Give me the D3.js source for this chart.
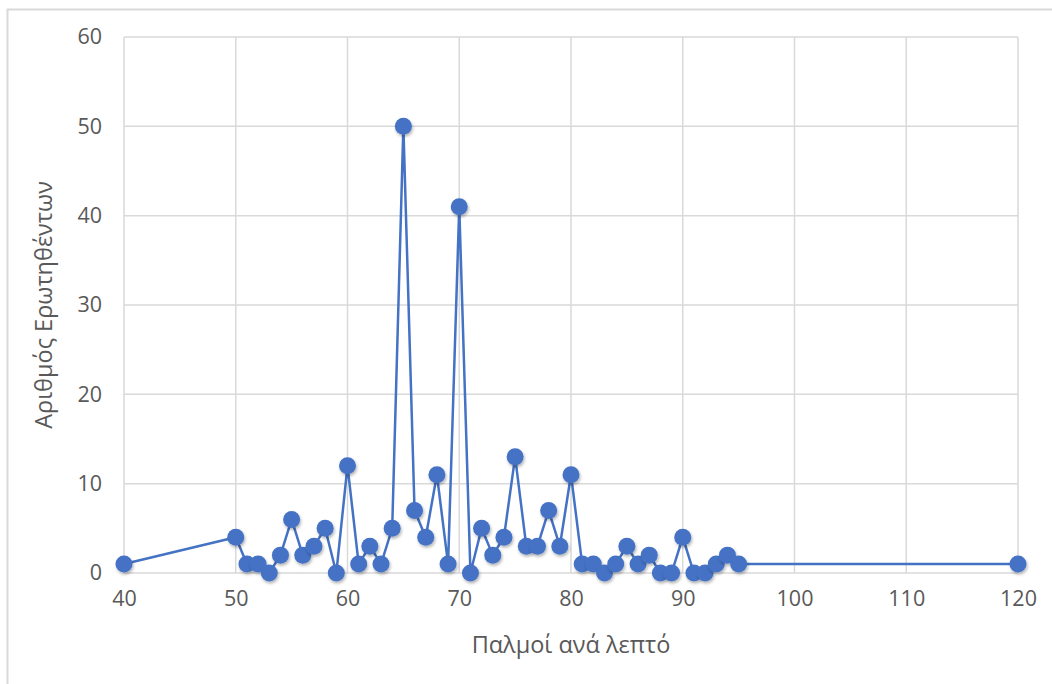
<!DOCTYPE html>
<html>
<head>
<meta charset="utf-8">
<script src="https://cdn.jsdelivr.net/npm/d3@7"></script>
<style>
  html, body { margin: 0; padding: 0; background: #fff; }
  svg { display: block; }
  text { font-family: "Open Sans", "Noto Sans", sans-serif; fill: #595959; }
</style>
</head>
<body>
<svg id="chart" width="1052" height="684"></svg>
<script>
// Heart rate (beats per minute) and number of respondents at each rate
const heartRates = [40, 50, 51, 52, 53, 54, 55, 56, 57, 58, 59, 60, 61, 62, 63, 64, 65, 66, 67, 68, 69, 70,
  71, 72, 73, 74, 75, 76, 77, 78, 79, 80, 81, 82, 83, 84, 85, 86, 87, 88, 89, 90, 91, 92, 93, 94, 95, 120];
const respondents = [1, 4, 1, 1, 0, 2, 6, 2, 3, 5, 0, 12, 1, 3, 1, 5, 50, 7, 4, 11, 1, 41,
  0, 5, 2, 4, 13, 3, 3, 7, 3, 11, 1, 1, 0, 1, 3, 1, 2, 0, 0, 4, 0, 0, 1, 2, 1, 1];
const xTicks = [40, 50, 60, 70, 80, 90, 100, 110, 120];
const yTicks = [0, 10, 20, 30, 40, 50, 60];
const xTitle = "Παλμοί ανά λεπτό";
const yTitle = "Αριθμός Ερωτηθέντων";

const svg = d3.select("#chart");
const plotLeft = 124, plotRight = 1018, plotTop = 37, plotBottom = 573;
const blue = "#4472C4";

// outer chart frame
svg.append("rect")
  .attr("x", 7.5).attr("y", 9.5)
  .attr("width", 1100).attr("height", 700)
  .attr("fill", "#fff").attr("stroke", "#d9d9d9").attr("stroke-width", 2);

const x = d3.scaleLinear().domain([40, 120]).range([plotLeft, plotRight]);
const y = d3.scaleLinear().domain([0, 60]).range([plotBottom, plotTop]);

// gridlines
svg.append("g").selectAll("line").data(xTicks).join("line")
  .attr("x1", d => x(d)).attr("x2", d => x(d))
  .attr("y1", plotTop).attr("y2", plotBottom)
  .attr("stroke", "#d9d9d9").attr("stroke-width", 1.5);
svg.append("g").selectAll("line").data(yTicks).join("line")
  .attr("x1", plotLeft).attr("x2", plotRight)
  .attr("y1", d => y(d)).attr("y2", d => y(d))
  .attr("stroke", "#d9d9d9").attr("stroke-width", 1.5);

// tick labels
const xAxis = svg.append("g").attr("transform", `translate(0,${plotBottom})`)
  .call(d3.axisBottom(x).tickValues(xTicks).tickSize(0).tickPadding(18));
const yAxis = svg.append("g").attr("transform", `translate(${plotLeft},0)`)
  .call(d3.axisLeft(y).tickValues(yTicks).tickSize(0).tickPadding(22));
[xAxis, yAxis].forEach(a => {
  a.select(".domain").remove();
  a.selectAll("text").attr("font-size", 21.5).attr("fill", "#595959")
    .attr("font-family", "'Open Sans', 'Noto Sans', sans-serif");
});

// axis titles
svg.append("text")
  .attr("x", (plotLeft + plotRight) / 2).attr("y", 653)
  .attr("text-anchor", "middle").attr("font-size", 23.5)
  .text(xTitle);
svg.append("text")
  .attr("transform", `translate(52,${(plotTop + plotBottom) / 2}) rotate(-90)`)
  .attr("text-anchor", "middle").attr("font-size", 23.5)
  .text(yTitle);

// soft shadow under the markers
const defs = svg.append("defs");
const f = defs.append("filter").attr("id", "shadow")
  .attr("x", "-50%").attr("y", "-50%").attr("width", "200%").attr("height", "200%");
f.append("feDropShadow").attr("dx", 1).attr("dy", 2).attr("stdDeviation", 1.5)
  .attr("flood-color", "#000").attr("flood-opacity", 0.3);

const pts = heartRates.map((h, i) => ({ h, n: respondents[i] }));

svg.append("path")
  .datum(pts)
  .attr("fill", "none").attr("stroke", blue).attr("stroke-width", 2.5)
  .attr("d", d3.line().x(d => x(d.h)).y(d => y(d.n)));

svg.append("g").selectAll("circle").data(pts).join("circle")
  .attr("cx", d => x(d.h)).attr("cy", d => y(d.n))
  .attr("r", 8.5).attr("fill", blue)
  .attr("filter", "url(#shadow)");
</script>
</body>
</html>
